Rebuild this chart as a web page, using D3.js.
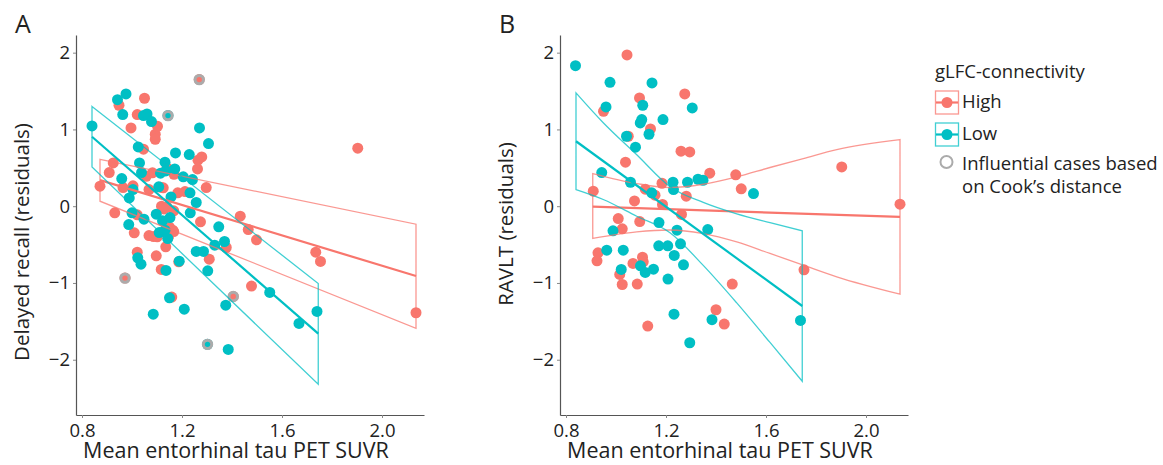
<!DOCTYPE html>
<html>
<meta charset="utf-8">
<style>
  body { margin: 0; background: #fff; }
  text { font-family: "Open Sans", "Noto Sans", sans-serif; fill: #222; }
</style>
<body>
<script src="https://d3js.org/d3.v7.min.js"></script>
<script>
// ---- data ----
const xTicks = [0.8, 1.2, 1.6, 2.0];
const yTicks = [-2, -1, 0, 1, 2];

// panel A: delayed recall residuals
const aHigh = [[0.872,0.260],[0.909,0.438],[0.925,0.564],[0.948,1.315],[0.931,-0.087],[0.964,0.243],
  [0.996,1.020],[1.004,0.265],[1.009,-0.347],[1.021,1.193],[1.021,-0.113],[1.021,-0.599],[1.046,0.742],
  [1.050,1.406],[1.057,0.390],[1.068,0.217],[1.068,-0.382],[1.082,0.434],[1.086,-0.395],[1.093,0.937],
  [1.093,0.872],[1.102,1.041],[1.097,-0.646],[1.101,-0.399],[1.114,0.247],[1.118,0.000],[1.125,0.239],
  [1.117,-0.824],[1.128,-0.035],[1.135,-0.529],[1.140,0.499],[1.140,-0.009],[1.146,-0.399],[1.150,-0.273],
  [1.159,-1.184],[1.163,-0.312],[1.167,-0.330],[1.167,-0.061],[1.168,0.416],[1.183,0.174],[1.187,-0.725],
  [1.212,0.191],[1.262,0.486],[1.264,0.599],[1.279,0.642],[1.274,-0.204],[1.297,0.243],[1.309,-0.690],
  [1.377,-0.538],[1.433,-0.130],[1.465,-0.304],[1.498,-0.438],[1.478,-1.041],[1.735,-0.599],[1.754,-0.720],
  [1.903,0.755],[2.136,-1.388],[1.269,1.649],[0.972,-0.937],[1.405,-1.176]];
const aLow = [[0.840,1.046],[0.942,1.388],[0.976,1.462],[0.963,1.193],[0.959,0.360],[0.989,0.108],
  [1.004,0.217],[1.000,-0.087],[0.987,-0.239],[1.025,0.772],[1.030,0.564],[1.038,0.438],[1.046,1.180],
  [1.060,1.202],[1.078,1.102],[1.048,-0.169],[1.023,-0.672],[1.036,-0.755],[1.097,-0.104],[1.109,-0.343],
  [1.114,0.430],[1.107,0.252],[1.132,0.573],[1.135,0.460],[1.122,-0.191],[1.132,-0.312],[1.143,-0.421],
  [1.152,-0.148],[1.156,0.121],[1.171,0.486],[1.174,0.694],[1.136,-0.837],[1.150,-1.193],[1.085,-1.406],
  [1.189,-0.716],[1.205,0.382],[1.209,-1.341],[1.229,0.672],[1.232,0.174],[1.233,-0.087],[1.242,0.347],
  [1.257,0.048],[1.257,-0.590],[1.270,1.020],[1.286,-0.590],[1.303,-0.842],[1.306,0.816],[1.331,-0.508],
  [1.347,-0.269],[1.370,-0.460],[1.375,-1.289],[1.385,-1.866],[1.551,-1.124],[1.668,-1.527],[1.740,-1.371],
  [1.144,1.180],[1.302,-1.800]];
const aInfluential = [[1.269,1.649],[0.972,-0.937],[1.405,-1.176],[1.144,1.180],[1.302,-1.800]];
const aHighFit = [[0.872,0.34],[2.136,-0.91]];
const aHighUpper = [[0.872,0.61],[2.136,-0.234]];
const aHighLower = [[0.872,0.065],[2.136,-1.59]];
const aLowFit = [[0.84,0.905],[1.745,-1.66]];
const aLowUpper = [[0.84,1.30],[1.745,-1.007]];
const aLowLower = [[0.84,0.51],[1.745,-2.32]];

// panel B: RAVLT residuals
const bHigh = [[1.044,1.970],[1.275,1.462],[1.094,1.410],[0.950,1.236],[1.138,1.006],[1.049,0.911],
  [1.260,0.716],[1.295,0.707],[1.038,0.573],[1.375,0.430],[1.479,0.408],[1.501,0.226],[1.903,0.512],
  [2.136,0.026],[0.909,0.195],[1.184,0.299],[1.117,0.221],[1.156,0.143],[1.281,0.130],[1.074,0.069],
  [1.186,0.022],[1.262,-0.108],[1.009,-0.161],[1.025,-0.295],[1.095,-0.200],[0.928,-0.607],[0.924,-0.711],
  [1.068,-0.746],[1.106,-0.664],[1.109,-0.725],[1.015,-0.889],[1.025,-1.020],[1.085,-1.015],[1.465,-1.015],
  [1.752,-0.829],[1.400,-1.349],[1.433,-1.536],[1.127,-1.562]];
const bLow = [[0.838,1.831],[0.976,1.614],[0.960,1.293],[0.943,0.438],[1.058,0.312],[1.078,0.768],
  [1.042,0.911],[1.097,1.085],[1.103,1.128],[1.107,1.315],[1.144,1.605],[1.132,0.937],[1.188,1.128],
  [1.143,0.174],[1.228,0.312],[1.230,0.217],[1.286,0.312],[1.305,1.280],[1.328,0.351],[1.348,0.338],
  [1.550,0.165],[0.988,-0.321],[0.963,-0.573],[1.029,-0.573],[1.021,-0.824],[1.098,-0.777],[1.117,-0.863],
  [1.150,-0.820],[1.172,-0.213],[1.171,-0.516],[1.207,-0.516],[1.244,-0.312],[1.258,-0.490],[1.233,-0.642],
  [1.270,-0.764],[1.208,-0.950],[1.367,-0.304],[1.232,-1.406],[1.295,-1.779],[1.384,-1.479],[1.738,-1.488]];
const bHighFit = [[0.907,-0.005],[2.136,-0.14]];
const bHighUpper = [[0.907,0.425],[1.083,0.295],[1.216,0.243],[1.349,0.286],[1.483,0.382],[1.616,0.504],
  [1.749,0.621],[1.883,0.738],[2.136,0.868]];
const bHighLower = [[0.907,-0.42],[1.083,-0.334],[1.216,-0.31],[1.349,-0.356],[1.483,-0.465],[1.616,-0.616],
  [1.749,-0.768],[1.883,-0.92],[2.136,-1.146]];
const bLowFit = [[0.84,0.846],[1.745,-1.30]];
const bLowUpper = [[0.84,1.476],[0.949,1.087],[1.083,0.669],[1.216,0.254],[1.349,0.049],[1.483,-0.10],
  [1.616,-0.215],[1.745,-0.32]];
const bLowLower = [[0.84,0.216],[0.949,0.087],[1.083,-0.131],[1.216,-0.346],[1.349,-0.771],[1.483,-1.26],
  [1.616,-1.775],[1.745,-2.28]];

const red = "#F8766D", teal = "#00BFC4", grey = "#ababab";

const svg = d3.select("body").append("svg")
  .attr("width", 1163).attr("height", 465);

function drawPanel(ox, p) {
  const x = d3.scaleLinear().domain([0.776, 2.168]).range([76 + ox, 424 + ox]);
  const y = d3.scaleLinear().domain([-2.72, 2.23]).range([415, 35]);
  const g = svg.append("g");

  // axes
  const xAxis = g.append("g").attr("transform", "translate(0,415)")
    .call(d3.axisBottom(x).tickValues(xTicks).tickFormat(d3.format(".1f")).tickSize(3).tickSizeOuter(0));
  const yAxis = g.append("g").attr("transform", `translate(${76 + ox},0)`)
    .call(d3.axisLeft(y).tickValues(yTicks).tickFormat(d => d < 0 ? "\u2212" + Math.abs(d) : d).tickSize(3).tickSizeOuter(0));
  [xAxis, yAxis].forEach(a => {
    a.select(".domain").attr("stroke", "#555").attr("stroke-width", 1.2);
    a.selectAll(".tick line").attr("stroke", "#888");
    a.selectAll("text").style("font-size", "18.5px").attr("fill", "#222");
  });
  xAxis.selectAll("text").attr("dy", null).attr("y", 22);
  yAxis.selectAll("text").attr("x", -6);

  const line = d3.line().x(d => x(d[0])).y(d => y(d[1]));
  const curve = d3.line().x(d => x(d[0])).y(d => y(d[1])).curve(d3.curveMonotoneX);

  // points
  [[p.high, red], [p.low, teal]].forEach(([pts, c]) => {
    g.append("g").selectAll("circle").data(pts).join("circle")
      .attr("cx", d => x(d[0])).attr("cy", d => y(d[1])).attr("r", 5.5).attr("fill", c);
  });
  g.append("g").selectAll("circle").data(p.infl).join("circle")
    .attr("cx", d => x(d[0])).attr("cy", d => y(d[1])).attr("r", 4.2)
    .attr("fill", "none").attr("stroke", grey).attr("stroke-width", 3);

  // confidence bands and fits
  [[p.highUp, p.highLo, p.highFit, red], [p.lowUp, p.lowLo, p.lowFit, teal]].forEach(([up, lo, fit, c]) => {
    const ring = up.concat(lo.slice().reverse());
    const path = p.curved ? curve(up) + "L" + curve(lo.slice().reverse()).slice(1) + "Z" : line(ring) + "Z";
    g.append("path").attr("d", path).attr("fill", "none")
      .attr("stroke", c).attr("stroke-opacity", 0.75).attr("stroke-width", 1.3);
    g.append("path").attr("d", line(fit)).attr("fill", "none")
      .attr("stroke", c).attr("stroke-width", 2.2);
  });

  // titles
  g.append("text").attr("x", 15 + ox).attr("y", 33).style("font-size", "25px").text(p.letter);
  g.append("text").attr("x", 236 + ox).attr("y", 458).attr("text-anchor", "middle")
    .style("font-size", "21.5px").text("Mean entorhinal tau PET SUVR");
  g.append("text").attr("transform", `translate(${29 + ox},${p.titleY}) rotate(-90)`)
    .attr("text-anchor", "middle").style("font-size", "20.5px").text(p.ytitle);
}

drawPanel(0, {letter: "A", ytitle: "Delayed recall (residuals)", titleY: 242, curved: false,
  high: aHigh, low: aLow, infl: aInfluential,
  highFit: aHighFit, highUp: aHighUpper, highLo: aHighLower,
  lowFit: aLowFit, lowUp: aLowUpper, lowLo: aLowLower});
drawPanel(484, {letter: "B", ytitle: "RAVLT (residuals)", titleY: 224, curved: true,
  high: bHigh, low: bLow, infl: [],
  highFit: bHighFit, highUp: bHighUpper, highLo: bHighLower,
  lowFit: bLowFit, lowUp: bLowUpper, lowLo: bLowLower});

// legend
const lg = svg.append("g").attr("transform", "translate(935,0)");
lg.append("text").attr("x", 0).attr("y", 78).style("font-size", "18.5px").text("gLFC-connectivity");
[["High", red, 91], ["Low", teal, 123]].forEach(([lab, c, top]) => {
  lg.append("rect").attr("x", 0.5).attr("y", top).attr("width", 23).attr("height", 23)
    .attr("fill", "#fff").attr("stroke", c).attr("stroke-opacity", 0.75).attr("stroke-width", 1.3);
  lg.append("line").attr("x1", 1).attr("x2", 23).attr("y1", top + 11.5).attr("y2", top + 11.5)
    .attr("stroke", c).attr("stroke-width", 2.2);
  lg.append("circle").attr("cx", 12).attr("cy", top + 11.5).attr("r", 5.5).attr("fill", c);
  lg.append("text").attr("x", 27).attr("y", top + 17).style("font-size", "18.5px").text(lab);
});
lg.append("circle").attr("cx", 11.5).attr("cy", 162).attr("r", 6).attr("fill", "none")
  .attr("stroke", grey).attr("stroke-width", 2);
lg.append("text").attr("x", 27).attr("y", 170).style("font-size", "18.5px").text("Influential cases based");
lg.append("text").attr("x", 27).attr("y", 193).style("font-size", "18.5px").text("on Cook\u2019s distance");
</script>
</body>
</html>
